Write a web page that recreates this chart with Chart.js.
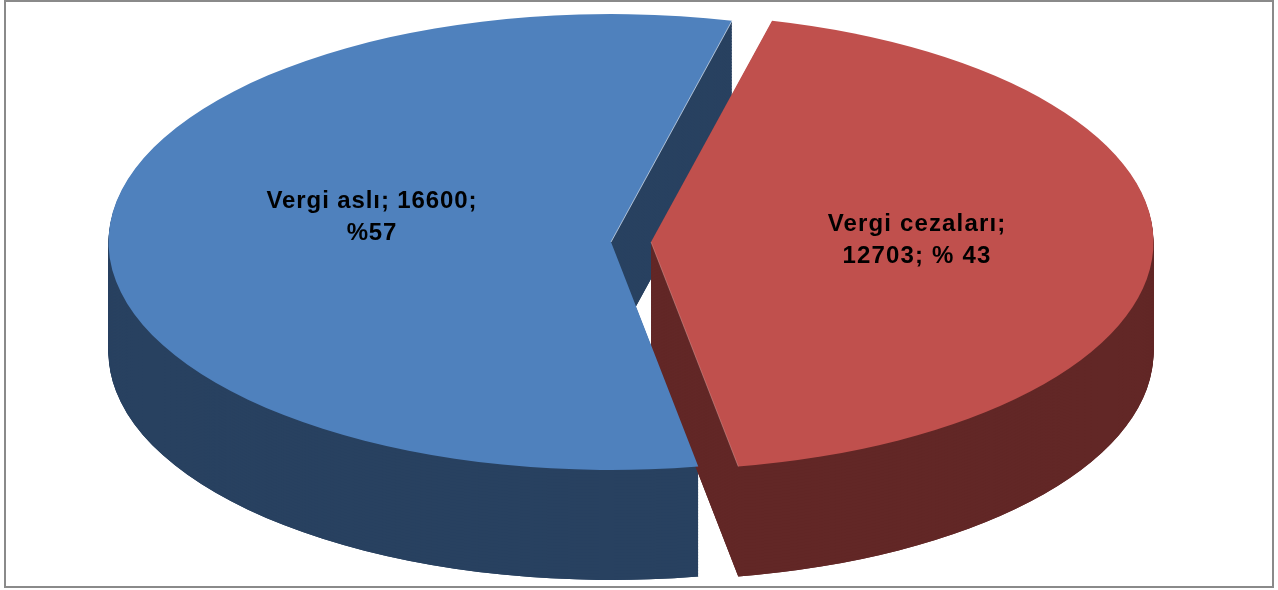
<!DOCTYPE html>
<html>
<head>
<meta charset="utf-8">
<style>html,body{margin:0;padding:0;background:#fff;overflow:hidden}canvas{display:block}</style>
<script src="https://cdn.jsdelivr.net/npm/chart.js@4/dist/chart.umd.js"></script>
</head>
<body>
<canvas id="c" width="1278" height="590"></canvas>
<script>
const categories = ['Vergi aslı', 'Vergi cezaları'];
const values = [16600, 12703];
const labelLines = [['Vergi aslı; 16600;', '%57'], ['Vergi cezaları;', '12703; % 43']];

const topColors = ['#4f81bd', '#c0504d'];
const wallColors = ['#284160', '#622726'];

const view = {
  cx: 631, cy: 242, rx: 502.5, ry: 228, depth: 110, wallSteps: [1, 3],
  explode: [-20, 20],
  label: [{x: 372, y: 208, spacing: 0.9}, {x: 917, y: 231, spacing: 1.15}],
  lineGap: 32
};

const pie3d = {
  id: 'pie3d',
  beforeDatasetsDraw(chart) {
    const ctx = chart.ctx;
    const arcs = chart.getDatasetMeta(0).data;
    const first = arcs[0];
    const sx = view.rx / first.outerRadius, sy = view.ry / first.outerRadius;
    const paint = (i, dy, color) => {
      const el = arcs[i], saved = el.options;
      ctx.save();
      ctx.translate(view.cx + view.explode[i], view.cy + dy);
      ctx.scale(sx, sy);
      ctx.translate(-el.x, -el.y);
      el.options = Object.assign(Object.create(saved), {backgroundColor: color});
      el.draw(ctx);
      el.options = saved;
      ctx.restore();
    };
    const edge = (i, angle, color) => {
      const ox = view.cx + view.explode[i], oy = view.cy;
      ctx.save();
      ctx.strokeStyle = color;
      ctx.lineWidth = 1;
      ctx.beginPath();
      ctx.moveTo(ox, oy);
      ctx.lineTo(ox + Math.cos(angle) * view.rx, oy + Math.sin(angle) * view.ry);
      ctx.stroke();
      ctx.restore();
    };
    [0, 1].forEach(i => {
      view.wallSteps.forEach(step => {
        for (let d = view.depth; d >= 1; d -= step) paint(i, d, wallColors[i]);
      });
    });
    paint(0, 0, topColors[0]);
    edge(0, arcs[0].endAngle, 'rgba(220,230,242,0.7)');
    paint(1, 0, topColors[1]);
    edge(1, arcs[1].endAngle, 'rgba(240,215,213,0.3)');
    return false;
  },
  afterDraw(chart) {
    const ctx = chart.ctx;
    ctx.save();
    ctx.lineWidth = 2;
    ctx.strokeStyle = '#8a8a8a';
    ctx.strokeRect(5, 1, 1268, 586);
    ctx.fillStyle = '#000';
    ctx.font = 'bold 24px "Liberation Sans", Arial, sans-serif';
    ctx.textAlign = 'center';
    ctx.textBaseline = 'alphabetic';
    labelLines.forEach((lines, i) => {
      const p = view.label[i];
      ctx.letterSpacing = p.spacing + 'px';
      lines.forEach((t, j) => ctx.fillText(t, p.x, p.y + j * view.lineGap));
    });
    ctx.restore();
  }
};

new Chart(document.getElementById('c'), {
  type: 'pie',
  data: {
    labels: categories,
    datasets: [{data: values, backgroundColor: topColors, borderWidth: 0}]
  },
  options: {
    responsive: false,
    animation: false,
    rotation: 170,
    layout: {padding: 0},
    plugins: {legend: {display: false}, tooltip: {enabled: false}}
  },
  plugins: [pie3d]
});
</script>
</body>
</html>
